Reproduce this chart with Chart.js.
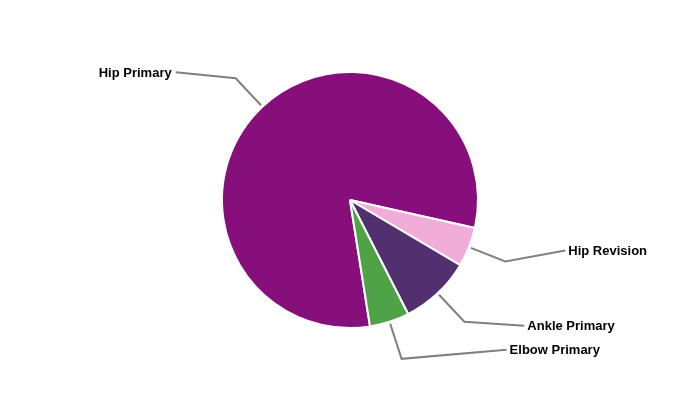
<!DOCTYPE html>
<html>
<head>
<meta charset="utf-8">
<script src="https://cdn.jsdelivr.net/npm/chart.js@4.4.1/dist/chart.umd.min.js"></script>
<style>
  html, body { margin: 0; padding: 0; background: #fff; }
  #wrap { width: 700px; height: 400px; }
</style>
</head>
<body>
<div id="wrap"><canvas id="myChart"></canvas></div>
<script>
// 데이터
const categories = ['Hip Primary', 'Hip Revision', 'Ankle Primary', 'Elbow Primary'];
const values = [81, 5, 9, 5];
const colors = ['#870F7B', '#F2ACDA', '#52306F', '#4FA346'];

// 라벨 끝점 (꺾인 점 기준 이동량)
const labelShift = [[-60, -6], [60, -11], [60, 4], [105, -9]];

// 리더선 + 라벨 그리기
const leaderLabels = {
    id: 'leaderLabels',
    afterDatasetsDraw(chart) {
        const ctx = chart.ctx;
        const arcs = chart.getDatasetMeta(0).data;
        ctx.save();
        ctx.font = 'bold 13px "Liberation Sans", Arial, sans-serif';
        ctx.textBaseline = 'middle';
        arcs.forEach((arc, i) => {
            const mid = (arc.startAngle + arc.endAngle) / 2;
            const r = arc.outerRadius;
            const x1 = arc.x + Math.cos(mid) * (r + 2);
            const y1 = arc.y + Math.sin(mid) * (r + 2);
            const x2 = arc.x + Math.cos(mid) * (r + 39);
            const y2 = arc.y + Math.sin(mid) * (r + 39);
            const x3 = x2 + labelShift[i][0];
            const y3 = y2 + labelShift[i][1];
            ctx.strokeStyle = '#808080';
            ctx.lineWidth = 2;
            ctx.beginPath();
            ctx.moveTo(x1, y1);
            ctx.lineTo(x2, y2);
            ctx.lineTo(x3, y3);
            ctx.stroke();
            const right = labelShift[i][0] > 0;
            ctx.fillStyle = '#000';
            ctx.textAlign = right ? 'left' : 'right';
            ctx.fillText(categories[i], right ? x3 + 3 : x3 - 4, y3 + 1);
        });
        ctx.restore();
    }
};

let config = {
    type: 'pie',
    data: {
        labels: categories,
        datasets: [{
            data: values,
            backgroundColor: colors,
            borderColor: '#ffffff',
            borderWidth: 2
        }]
    },
    options: {
        responsive: true,
        maintainAspectRatio: false,
        animation: false,
        rotation: 171,
        layout: { padding: { top: 71, bottom: 71 } },
        plugins: {
            legend: { display: false },
            tooltip: { enabled: false }
        }
    },
    plugins: [leaderLabels]
};

let myChart = new Chart(document.getElementById('myChart'), config);
</script>
</body>
</html>
